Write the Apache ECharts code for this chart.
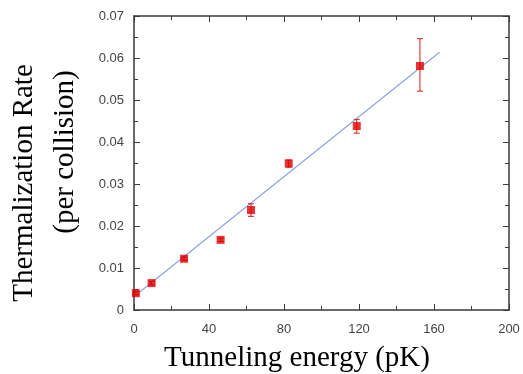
<!DOCTYPE html>
<html>
<head>
<meta charset="utf-8">
<script src="https://cdn.jsdelivr.net/npm/echarts@6/dist/echarts.min.js"></script>
<style>
  html, body { margin: 0; padding: 0; background: #fff; }
  #chart { width: 523px; height: 374px; }
</style>
</head>
<body>
<div id="chart"></div>
<script>
// measured points (tunneling energy in pK, rate per collision)
const energy = [1, 9.4, 26.7, 46.2, 62.4, 82.5, 118.8, 152.5];
const rate = [0.0040, 0.0064, 0.0122, 0.0167, 0.0238, 0.0349, 0.0438, 0.0581];
const errLow = [0.0004, 0.0004, 0.0004, 0.0004, 0.0015, 0.0009, 0.0017, 0.0060];
const errHigh = [0.0004, 0.0004, 0.0004, 0.0004, 0.0015, 0.0008, 0.0016, 0.0065];

// linear fit line end points
const fitX = [2, 163];
const fitY = [0.0039, 0.0614];

const xTicks = [0, 40, 80, 120, 160, 200];

const axisColor = '#3a3a3a';
const labelFont = 'Liberation Sans, Arial, sans-serif';
const titleFont = 'Liberation Serif, Times New Roman, serif';

const chart = echarts.init(document.getElementById('chart'));

const xBase = {
  type: 'value',
  min: xTicks[0],
  max: xTicks[xTicks.length - 1],
  interval: 40,
  axisLine: { show: true, onZero: false, lineStyle: { color: axisColor, width: 1.5 } },
  axisTick: { show: true, inside: true, length: 6, lineStyle: { color: axisColor } },
  minorTick: { show: true, splitNumber: 2, length: 4, lineStyle: { color: axisColor } },
  splitLine: { show: false },
};
const yBase = {
  type: 'value',
  min: 0,
  max: 0.07,
  interval: 0.01,
  axisLine: { show: true, onZero: false, lineStyle: { color: axisColor, width: 1.5 } },
  axisTick: { show: true, inside: true, length: 6, lineStyle: { color: axisColor } },
  minorTick: { show: true, splitNumber: 2, length: 4, lineStyle: { color: axisColor } },
  splitLine: { show: false },
};

chart.setOption({
  animation: false,
  grid: { left: 134, right: 14, top: 16, bottom: 64 },
  xAxis: [
    Object.assign({}, xBase, {
      position: 'bottom',
      axisLabel: { color: '#444', fontFamily: labelFont, fontSize: 13, margin: 13 },
    }),
    Object.assign({}, xBase, { position: 'top', axisLabel: { show: false } }),
  ],
  yAxis: [
    Object.assign({}, yBase, {
      position: 'left',
      axisLabel: {
        color: '#444', fontFamily: labelFont, fontSize: 13, margin: 10,
        formatter: v => (v === 0 ? '0' : v.toFixed(2)),
      },
    }),
    Object.assign({}, yBase, { position: 'right', axisLabel: { show: false } }),
  ],
  graphic: [
    {
      type: 'text', x: 297, y: 358,
      style: {
        text: 'Tunneling energy (pK)', font: '29px ' + titleFont, fill: '#000',
        align: 'center', verticalAlign: 'middle',
      },
    },
    {
      type: 'text', x: 24, y: 183, rotation: Math.PI / 2,
      style: {
        text: 'Thermalization Rate', font: '29px ' + titleFont, fill: '#000',
        align: 'center', verticalAlign: 'middle',
      },
    },
    {
      type: 'text', x: 65, y: 152, rotation: Math.PI / 2,
      style: {
        text: '(per collision)', font: '29px ' + titleFont, fill: '#000',
        align: 'center', verticalAlign: 'middle',
      },
    },
  ],
  series: [
    {
      type: 'line',
      data: fitX.map((x, i) => [x, fitY[i]]),
      symbol: 'none',
      lineStyle: { color: '#7b96e0', width: 1.2 },
      z: 2,
    },
    {
      type: 'custom',
      data: energy.map((x, i) => [x, rate[i] - errLow[i], rate[i] + errHigh[i]]),
      renderItem(params, api) {
        const lo = api.coord([api.value(0), api.value(1)]);
        const hi = api.coord([api.value(0), api.value(2)]);
        const cap = 3;
        const style = { stroke: '#d81818', lineWidth: 1 };
        return {
          type: 'group',
          children: [
            { type: 'line', shape: { x1: lo[0], y1: lo[1], x2: hi[0], y2: hi[1] }, style },
            { type: 'line', shape: { x1: lo[0] - cap, y1: lo[1], x2: lo[0] + cap, y2: lo[1] }, style },
            { type: 'line', shape: { x1: hi[0] - cap, y1: hi[1], x2: hi[0] + cap, y2: hi[1] }, style },
          ],
        };
      },
      z: 3,
    },
    {
      type: 'scatter',
      data: energy.map((x, i) => [x, rate[i]]),
      symbol: 'rect',
      symbolSize: 8,
      itemStyle: { color: '#e00000' },
      z: 4,
    },
  ],
});
</script>
</body>
</html>
